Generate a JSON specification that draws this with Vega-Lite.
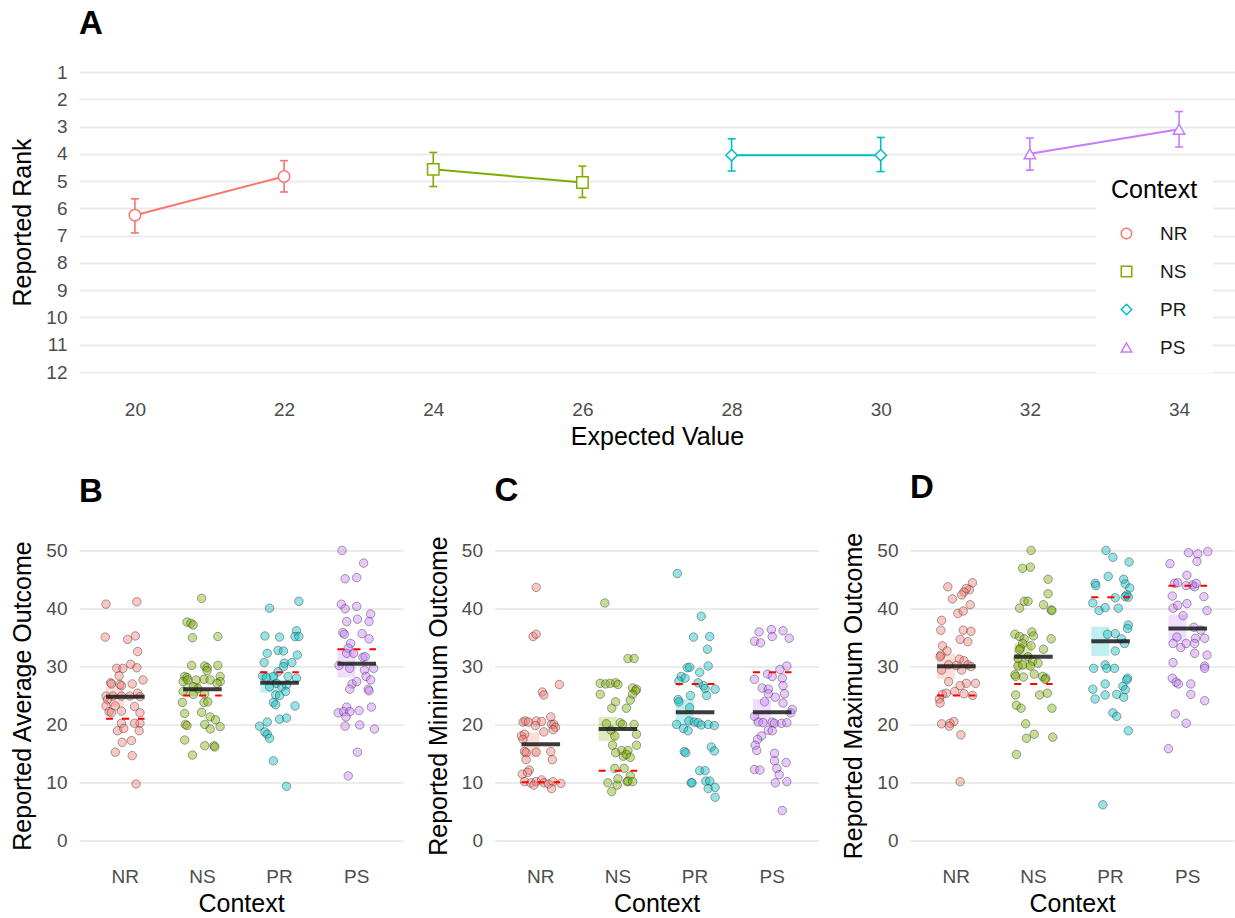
{
"$schema": "https://vega.github.io/schema/vega-lite/v6.json",
"padding": {"left": 10, "top": 8, "right": 0, "bottom": 0},
"bounds": "flush",
"spacing": 149.5,
"resolve": {"scale": {"color": "independent", "shape": "independent"}},
"datasets": {
"rank": [
{"c":"NR","ev":20,"r":6.25,"lo":5.65,"hi":6.9},
{"c":"NR","ev":22,"r":4.83,"lo":4.25,"hi":5.4},
{"c":"NS","ev":24,"r":4.57,"lo":3.95,"hi":5.2},
{"c":"NS","ev":26,"r":5.05,"lo":4.45,"hi":5.6},
{"c":"PR","ev":28,"r":4.05,"lo":3.45,"hi":4.63},
{"c":"PR","ev":30,"r":4.05,"lo":3.4,"hi":4.65},
{"c":"PS","ev":32,"r":4.0,"lo":3.42,"hi":4.6},
{"c":"PS","ev":34,"r":3.1,"lo":2.45,"hi":3.75}
],
"sumB": [
{"c":"NR","m":24.8,"lo":23.1,"hi":26.4,"ref":21},
{"c":"NS","m":26.1,"lo":24.9,"hi":27.3,"ref":25},
{"c":"PR","m":27.2,"lo":25.5,"hi":29.0,"ref":29},
{"c":"PS","m":30.5,"lo":28.1,"hi":32.9,"ref":33}
],
"sumC": [
{"c":"NR","m":16.55,"lo":14.4,"hi":18.6,"ref":10},
{"c":"NS","m":19.2,"lo":17.1,"hi":21.3,"ref":12},
{"c":"PR","m":22.1,"lo":20.0,"hi":24.4,"ref":27},
{"c":"PS","m":22.1,"lo":20.0,"hi":24.4,"ref":29}
],
"sumD": [
{"c":"NR","m":30.05,"lo":27.9,"hi":32.2,"ref":25},
{"c":"NS","m":31.7,"lo":29.4,"hi":34.0,"ref":27},
{"c":"PR","m":34.4,"lo":31.8,"hi":36.9,"ref":42},
{"c":"PS","m":36.6,"lo":34.3,"hi":39.0,"ref":44}
],
"avg": [
{"c":"NR","j":-0.25,"v":40.8},{"c":"NR","j":0.15,"v":41.2},{"c":"NR","j":-0.26,"v":35.1},{"c":"NR","j":0.03,"v":34.7},{"c":"NR","j":0.13,"v":35.3},{"c":"NR","j":0.16,"v":32.6},{"c":"NR","j":0.07,"v":30.4},{"c":"NR","j":-0.11,"v":29.7},{"c":"NR","j":-0.03,"v":29.7},{"c":"NR","j":0.15,"v":29.8},{"c":"NR","j":-0.08,"v":28.4},{"c":"NR","j":0.23,"v":27.7},{"c":"NR","j":-0.19,"v":27.2},{"c":"NR","j":-0.18,"v":27.0},{"c":"NR","j":-0.07,"v":26.9},{"c":"NR","j":-0.05,"v":26.7},{"c":"NR","j":0.09,"v":27.0},{"c":"NR","j":-0.25,"v":24.9},{"c":"NR","j":-0.16,"v":24.9},{"c":"NR","j":-0.05,"v":24.9},{"c":"NR","j":0.06,"v":24.9},{"c":"NR","j":0.16,"v":25.4},{"c":"NR","j":0.19,"v":24.8},{"c":"NR","j":-0.23,"v":24.3},{"c":"NR","j":-0.25,"v":23.2},{"c":"NR","j":-0.13,"v":23.2},{"c":"NR","j":0.12,"v":23.1},{"c":"NR","j":-0.21,"v":22.2},{"c":"NR","j":-0.18,"v":22.0},{"c":"NR","j":-0.05,"v":22.3},{"c":"NR","j":0.19,"v":22.0},{"c":"NR","j":-0.05,"v":20.2},{"c":"NR","j":0.19,"v":20.2},{"c":"NR","j":0.12,"v":20.2},{"c":"NR","j":-0.10,"v":18.9},{"c":"NR","j":-0.02,"v":19.3},{"c":"NR","j":0.18,"v":18.9},{"c":"NR","j":-0.04,"v":16.9},{"c":"NR","j":0.08,"v":17.2},{"c":"NR","j":-0.13,"v":15.2},{"c":"NR","j":0.09,"v":14.6},{"c":"NR","j":0.14,"v":9.7},
{"c":"NS","j":-0.01,"v":41.8},{"c":"NS","j":-0.20,"v":37.7},{"c":"NS","j":-0.15,"v":37.5},{"c":"NS","j":-0.12,"v":37.2},{"c":"NS","j":-0.13,"v":35.0},{"c":"NS","j":0.20,"v":35.2},{"c":"NS","j":-0.14,"v":30.2},{"c":"NS","j":0.03,"v":30.1},{"c":"NS","j":0.06,"v":29.8},{"c":"NS","j":0.20,"v":30.2},{"c":"NS","j":0.06,"v":29.3},{"c":"NS","j":-0.23,"v":28.3},{"c":"NS","j":-0.20,"v":28.1},{"c":"NS","j":-0.25,"v":27.4},{"c":"NS","j":-0.19,"v":27.7},{"c":"NS","j":-0.08,"v":27.7},{"c":"NS","j":0.02,"v":27.8},{"c":"NS","j":0.10,"v":27.7},{"c":"NS","j":0.23,"v":28.3},{"c":"NS","j":0.23,"v":27.4},{"c":"NS","j":0.19,"v":27.1},{"c":"NS","j":-0.06,"v":26.2},{"c":"NS","j":-0.12,"v":26.5},{"c":"NS","j":-0.25,"v":25.7},{"c":"NS","j":-0.12,"v":25.2},{"c":"NS","j":0.03,"v":25.3},{"c":"NS","j":-0.26,"v":23.8},{"c":"NS","j":0.02,"v":23.8},{"c":"NS","j":0.07,"v":23.9},{"c":"NS","j":-0.23,"v":21.9},{"c":"NS","j":-0.01,"v":22.1},{"c":"NS","j":0.10,"v":21.3},{"c":"NS","j":-0.22,"v":20.0},{"c":"NS","j":-0.20,"v":19.8},{"c":"NS","j":0.03,"v":20.0},{"c":"NS","j":0.10,"v":19.2},{"c":"NS","j":0.17,"v":20.8},{"c":"NS","j":0.23,"v":19.6},{"c":"NS","j":-0.23,"v":17.3},{"c":"NS","j":0.03,"v":16.3},{"c":"NS","j":0.15,"v":16.3},{"c":"NS","j":0.16,"v":16.1},{"c":"NS","j":-0.13,"v":14.7},
{"c":"PR","j":-0.13,"v":40.1},{"c":"PR","j":0.25,"v":41.3},{"c":"PR","j":-0.19,"v":35.3},{"c":"PR","j":0.0,"v":35.1},{"c":"PR","j":0.22,"v":36.2},{"c":"PR","j":0.20,"v":35.2},{"c":"PR","j":0.25,"v":35.2},{"c":"PR","j":-0.16,"v":32.3},{"c":"PR","j":-0.02,"v":32.8},{"c":"PR","j":0.05,"v":32.7},{"c":"PR","j":0.23,"v":32.0},{"c":"PR","j":-0.20,"v":30.7},{"c":"PR","j":0.06,"v":30.6},{"c":"PR","j":0.16,"v":30.7},{"c":"PR","j":0.05,"v":30.0},{"c":"PR","j":-0.02,"v":29.1},{"c":"PR","j":-0.22,"v":28.4},{"c":"PR","j":-0.17,"v":28.1},{"c":"PR","j":-0.08,"v":28.3},{"c":"PR","j":0.11,"v":28.3},{"c":"PR","j":0.22,"v":28.0},{"c":"PR","j":-0.04,"v":27.1},{"c":"PR","j":0.03,"v":26.5},{"c":"PR","j":0.09,"v":26.8},{"c":"PR","j":-0.13,"v":26.5},{"c":"PR","j":-0.05,"v":25.1},{"c":"PR","j":0.0,"v":25.0},{"c":"PR","j":0.08,"v":25.7},{"c":"PR","j":-0.08,"v":23.8},{"c":"PR","j":-0.05,"v":23.4},{"c":"PR","j":0.20,"v":23.2},{"c":"PR","j":0.0,"v":20.9},{"c":"PR","j":0.09,"v":21.1},{"c":"PR","j":-0.26,"v":19.7},{"c":"PR","j":-0.16,"v":20.4},{"c":"PR","j":-0.19,"v":18.7},{"c":"PR","j":-0.16,"v":18.3},{"c":"PR","j":-0.13,"v":17.6},{"c":"PR","j":-0.08,"v":13.7},{"c":"PR","j":0.09,"v":9.3},
{"c":"PS","j":-0.19,"v":50.1},{"c":"PS","j":0.09,"v":47.9},{"c":"PS","j":-0.15,"v":45.2},{"c":"PS","j":0.0,"v":45.4},{"c":"PS","j":-0.20,"v":40.8},{"c":"PS","j":-0.15,"v":40.0},{"c":"PS","j":0.0,"v":40.4},{"c":"PS","j":0.18,"v":39.1},{"c":"PS","j":-0.13,"v":37.8},{"c":"PS","j":0.01,"v":38.2},{"c":"PS","j":0.16,"v":37.8},{"c":"PS","j":-0.18,"v":35.9},{"c":"PS","j":-0.16,"v":35.6},{"c":"PS","j":0.07,"v":35.7},{"c":"PS","j":0.16,"v":34.8},{"c":"PS","j":-0.08,"v":34.0},{"c":"PS","j":-0.11,"v":33.2},{"c":"PS","j":-0.13,"v":32.3},{"c":"PS","j":-0.04,"v":32.3},{"c":"PS","j":0.08,"v":31.6},{"c":"PS","j":0.11,"v":31.7},{"c":"PS","j":-0.23,"v":30.2},{"c":"PS","j":-0.09,"v":29.7},{"c":"PS","j":0.22,"v":29.7},{"c":"PS","j":0.10,"v":29.4},{"c":"PS","j":0.12,"v":28.3},{"c":"PS","j":0.18,"v":27.7},{"c":"PS","j":-0.06,"v":27.0},{"c":"PS","j":0.0,"v":27.4},{"c":"PS","j":-0.09,"v":26.1},{"c":"PS","j":0.15,"v":26.1},{"c":"PS","j":0.16,"v":25.8},{"c":"PS","j":-0.13,"v":23.0},{"c":"PS","j":-0.24,"v":22.0},{"c":"PS","j":-0.17,"v":22.2},{"c":"PS","j":-0.09,"v":22.2},{"c":"PS","j":0.03,"v":22.4},{"c":"PS","j":0.19,"v":23.0},{"c":"PS","j":-0.14,"v":21.3},{"c":"PS","j":-0.15,"v":19.7},{"c":"PS","j":0.04,"v":19.9},{"c":"PS","j":0.23,"v":19.2},{"c":"PS","j":0.01,"v":15.2},{"c":"PS","j":-0.11,"v":11.1}
],
"min": [
{"c":"NR","j":-0.06,"v":43.7},{"c":"NR","j":-0.10,"v":35.2},{"c":"NR","j":-0.06,"v":35.6},{"c":"NR","j":0.02,"v":25.6},{"c":"NR","j":0.04,"v":25.1},{"c":"NR","j":0.24,"v":26.9},{"c":"NR","j":-0.23,"v":20.4},{"c":"NR","j":-0.20,"v":20.6},{"c":"NR","j":-0.16,"v":20.4},{"c":"NR","j":-0.06,"v":20.6},{"c":"NR","j":0.01,"v":20.5},{"c":"NR","j":0.13,"v":21.3},{"c":"NR","j":0.14,"v":20.0},{"c":"NR","j":0.17,"v":20.0},{"c":"NR","j":0.19,"v":19.5},{"c":"NR","j":-0.07,"v":19.8},{"c":"NR","j":-0.25,"v":18.0},{"c":"NR","j":-0.21,"v":18.3},{"c":"NR","j":0.04,"v":18.7},{"c":"NR","j":0.16,"v":19.1},{"c":"NR","j":-0.23,"v":17.4},{"c":"NR","j":-0.21,"v":15.3},{"c":"NR","j":-0.19,"v":15.1},{"c":"NR","j":-0.06,"v":15.2},{"c":"NR","j":0.13,"v":15.3},{"c":"NR","j":-0.19,"v":13.9},{"c":"NR","j":0.15,"v":13.9},{"c":"NR","j":-0.24,"v":11.4},{"c":"NR","j":-0.15,"v":12.1},{"c":"NR","j":-0.17,"v":11.7},{"c":"NR","j":-0.21,"v":10.1},{"c":"NR","j":-0.13,"v":9.9},{"c":"NR","j":-0.06,"v":10.1},{"c":"NR","j":0.01,"v":10.4},{"c":"NR","j":0.04,"v":9.9},{"c":"NR","j":0.10,"v":9.7},{"c":"NR","j":0.16,"v":10.1},{"c":"NR","j":0.26,"v":9.8},{"c":"NR","j":0.14,"v":8.9},{"c":"NR","j":-0.09,"v":9.5},
{"c":"NS","j":-0.17,"v":41.0},{"c":"NS","j":0.13,"v":31.4},{"c":"NS","j":0.21,"v":31.4},{"c":"NS","j":-0.23,"v":27.1},{"c":"NS","j":-0.16,"v":27.0},{"c":"NS","j":-0.10,"v":27.1},{"c":"NS","j":-0.03,"v":27.2},{"c":"NS","j":0.0,"v":26.9},{"c":"NS","j":-0.23,"v":25.2},{"c":"NS","j":0.19,"v":26.3},{"c":"NS","j":0.24,"v":26.1},{"c":"NS","j":0.23,"v":25.8},{"c":"NS","j":0.19,"v":25.2},{"c":"NS","j":0.16,"v":24.2},{"c":"NS","j":-0.03,"v":23.9},{"c":"NS","j":-0.08,"v":22.8},{"c":"NS","j":0.11,"v":22.8},{"c":"NS","j":-0.15,"v":20.1},{"c":"NS","j":0.03,"v":20.3},{"c":"NS","j":0.06,"v":20.0},{"c":"NS","j":0.21,"v":20.0},{"c":"NS","j":-0.09,"v":19.0},{"c":"NS","j":0.24,"v":18.3},{"c":"NS","j":-0.04,"v":18.0},{"c":"NS","j":-0.07,"v":16.4},{"c":"NS","j":0.24,"v":16.4},{"c":"NS","j":0.05,"v":15.5},{"c":"NS","j":0.13,"v":15.5},{"c":"NS","j":-0.03,"v":15.1},{"c":"NS","j":0.07,"v":14.5},{"c":"NS","j":0.16,"v":14.3},{"c":"NS","j":0.11,"v":14.8},{"c":"NS","j":-0.04,"v":12.4},{"c":"NS","j":0.08,"v":12.4},{"c":"NS","j":0.16,"v":11.1},{"c":"NS","j":0.12,"v":10.1},{"c":"NS","j":0.13,"v":10.2},{"c":"NS","j":0.19,"v":10.1},{"c":"NS","j":-0.13,"v":9.9},{"c":"NS","j":-0.01,"v":9.5},{"c":"NS","j":0.0,"v":10.6},{"c":"NS","j":-0.08,"v":8.4},
{"c":"PR","j":-0.23,"v":46.1},{"c":"PR","j":0.08,"v":38.7},{"c":"PR","j":-0.02,"v":35.1},{"c":"PR","j":0.19,"v":35.2},{"c":"PR","j":0.16,"v":33.0},{"c":"PR","j":-0.10,"v":29.8},{"c":"PR","j":-0.07,"v":29.9},{"c":"PR","j":0.17,"v":30.1},{"c":"PR","j":0.06,"v":29.0},{"c":"PR","j":-0.18,"v":28.3},{"c":"PR","j":-0.13,"v":28.0},{"c":"PR","j":-0.21,"v":27.5},{"c":"PR","j":0.11,"v":26.7},{"c":"PR","j":0.13,"v":26.2},{"c":"PR","j":0.04,"v":27.2},{"c":"PR","j":-0.06,"v":25.0},{"c":"PR","j":0.15,"v":25.0},{"c":"PR","j":0.26,"v":26.1},{"c":"PR","j":-0.22,"v":24.3},{"c":"PR","j":-0.21,"v":23.9},{"c":"PR","j":-0.07,"v":22.9},{"c":"PR","j":-0.24,"v":20.0},{"c":"PR","j":-0.15,"v":19.3},{"c":"PR","j":-0.09,"v":18.9},{"c":"PR","j":-0.08,"v":20.6},{"c":"PR","j":-0.01,"v":20.4},{"c":"PR","j":0.04,"v":20.3},{"c":"PR","j":0.08,"v":19.9},{"c":"PR","j":0.17,"v":20.0},{"c":"PR","j":0.25,"v":19.8},{"c":"PR","j":-0.14,"v":15.3},{"c":"PR","j":-0.12,"v":15.1},{"c":"PR","j":0.21,"v":16.1},{"c":"PR","j":0.25,"v":15.4},{"c":"PR","j":0.06,"v":12.0},{"c":"PR","j":0.13,"v":12.0},{"c":"PR","j":-0.05,"v":9.9},{"c":"PR","j":-0.04,"v":9.9},{"c":"PR","j":0.14,"v":10.2},{"c":"PR","j":0.19,"v":10.2},{"c":"PR","j":0.17,"v":8.9},{"c":"PR","j":0.26,"v":9.1},{"c":"PR","j":0.26,"v":7.4},
{"c":"PS","j":-0.17,"v":36.0},{"c":"PS","j":-0.01,"v":36.4},{"c":"PS","j":0.0,"v":35.2},{"c":"PS","j":0.14,"v":36.2},{"c":"PS","j":0.22,"v":34.9},{"c":"PS","j":-0.23,"v":34.4},{"c":"PS","j":-0.15,"v":34.1},{"c":"PS","j":0.19,"v":30.1},{"c":"PS","j":0.10,"v":29.5},{"c":"PS","j":-0.06,"v":28.7},{"c":"PS","j":0.0,"v":28.3},{"c":"PS","j":0.13,"v":28.0},{"c":"PS","j":-0.23,"v":27.8},{"c":"PS","j":-0.13,"v":26.3},{"c":"PS","j":-0.05,"v":26.1},{"c":"PS","j":0.14,"v":26.7},{"c":"PS","j":0.16,"v":25.3},{"c":"PS","j":0.04,"v":24.7},{"c":"PS","j":-0.05,"v":25.3},{"c":"PS","j":-0.10,"v":23.9},{"c":"PS","j":0.14,"v":23.7},{"c":"PS","j":-0.23,"v":21.4},{"c":"PS","j":0.26,"v":22.6},{"c":"PS","j":0.24,"v":22.0},{"c":"PS","j":-0.18,"v":20.4},{"c":"PS","j":-0.12,"v":20.3},{"c":"PS","j":0.0,"v":20.4},{"c":"PS","j":0.03,"v":20.2},{"c":"PS","j":0.12,"v":20.2},{"c":"PS","j":0.19,"v":20.3},{"c":"PS","j":-0.05,"v":19.0},{"c":"PS","j":0.0,"v":18.9},{"c":"PS","j":-0.14,"v":18.0},{"c":"PS","j":-0.19,"v":17.4},{"c":"PS","j":-0.22,"v":16.4},{"c":"PS","j":-0.20,"v":15.5},{"c":"PS","j":0.03,"v":15.0},{"c":"PS","j":0.03,"v":13.7},{"c":"PS","j":0.06,"v":12.4},{"c":"PS","j":0.09,"v":11.3},{"c":"PS","j":0.18,"v":13.4},{"c":"PS","j":-0.23,"v":12.2},{"c":"PS","j":-0.16,"v":12.1},{"c":"PS","j":0.04,"v":9.9},{"c":"PS","j":0.19,"v":10.1},{"c":"PS","j":0.13,"v":5.1}
],
"max": [
{"c":"NR","j":-0.11,"v":43.8},{"c":"NR","j":0.21,"v":44.5},{"c":"NR","j":0.17,"v":43.3},{"c":"NR","j":0.13,"v":43.5},{"c":"NR","j":0.10,"v":42.9},{"c":"NR","j":0.07,"v":42.4},{"c":"NR","j":-0.05,"v":41.7},{"c":"NR","j":0.18,"v":40.7},{"c":"NR","j":0.02,"v":39.2},{"c":"NR","j":0.09,"v":39.6},{"c":"NR","j":-0.19,"v":38.0},{"c":"NR","j":-0.20,"v":36.3},{"c":"NR","j":0.09,"v":36.3},{"c":"NR","j":0.19,"v":36.1},{"c":"NR","j":0.05,"v":34.7},{"c":"NR","j":0.15,"v":34.3},{"c":"NR","j":-0.18,"v":33.6},{"c":"NR","j":-0.12,"v":32.7},{"c":"NR","j":-0.20,"v":32.0},{"c":"NR","j":-0.21,"v":31.7},{"c":"NR","j":-0.10,"v":30.3},{"c":"NR","j":0.04,"v":31.3},{"c":"NR","j":0.10,"v":31.0},{"c":"NR","j":0.15,"v":30.3},{"c":"NR","j":0.19,"v":30.0},{"c":"NR","j":-0.19,"v":29.4},{"c":"NR","j":0.07,"v":29.4},{"c":"NR","j":0.0,"v":30.2},{"c":"NR","j":-0.10,"v":27.4},{"c":"NR","j":0.25,"v":27.1},{"c":"NR","j":0.13,"v":27.1},{"c":"NR","j":0.05,"v":26.7},{"c":"NR","j":-0.18,"v":25.2},{"c":"NR","j":-0.13,"v":25.4},{"c":"NR","j":-0.02,"v":25.7},{"c":"NR","j":0.10,"v":25.3},{"c":"NR","j":0.21,"v":25.0},{"c":"NR","j":-0.22,"v":24.4},{"c":"NR","j":-0.21,"v":23.7},{"c":"NR","j":-0.19,"v":20.1},{"c":"NR","j":-0.08,"v":20.2},{"c":"NR","j":-0.03,"v":20.5},{"c":"NR","j":-0.09,"v":19.7},{"c":"NR","j":0.06,"v":18.2},{"c":"NR","j":0.05,"v":10.1},
{"c":"NS","j":-0.03,"v":50.1},{"c":"NS","j":-0.14,"v":47.0},{"c":"NS","j":-0.04,"v":47.2},{"c":"NS","j":0.19,"v":45.1},{"c":"NS","j":0.19,"v":42.6},{"c":"NS","j":-0.18,"v":40.1},{"c":"NS","j":-0.12,"v":41.3},{"c":"NS","j":-0.07,"v":41.3},{"c":"NS","j":0.13,"v":40.7},{"c":"NS","j":0.23,"v":39.8},{"c":"NS","j":0.24,"v":39.7},{"c":"NS","j":-0.24,"v":35.6},{"c":"NS","j":-0.18,"v":35.2},{"c":"NS","j":-0.12,"v":34.8},{"c":"NS","j":-0.02,"v":36.0},{"c":"NS","j":0.0,"v":35.3},{"c":"NS","j":0.23,"v":34.8},{"c":"NS","j":-0.14,"v":34.0},{"c":"NS","j":-0.17,"v":33.2},{"c":"NS","j":-0.18,"v":32.9},{"c":"NS","j":-0.03,"v":33.6},{"c":"NS","j":0.13,"v":33.0},{"c":"NS","j":-0.20,"v":31.4},{"c":"NS","j":-0.07,"v":31.7},{"c":"NS","j":-0.01,"v":30.9},{"c":"NS","j":0.06,"v":30.6},{"c":"NS","j":-0.20,"v":30.1},{"c":"NS","j":-0.14,"v":30.3},{"c":"NS","j":-0.04,"v":30.1},{"c":"NS","j":-0.24,"v":28.6},{"c":"NS","j":-0.23,"v":28.3},{"c":"NS","j":-0.13,"v":28.2},{"c":"NS","j":0.01,"v":28.7},{"c":"NS","j":0.12,"v":28.3},{"c":"NS","j":0.16,"v":28.0},{"c":"NS","j":0.15,"v":27.8},{"c":"NS","j":-0.23,"v":25.1},{"c":"NS","j":0.08,"v":25.1},{"c":"NS","j":0.18,"v":25.4},{"c":"NS","j":-0.22,"v":23.3},{"c":"NS","j":-0.16,"v":22.8},{"c":"NS","j":0.24,"v":22.8},{"c":"NS","j":-0.10,"v":20.1},{"c":"NS","j":0.01,"v":18.3},{"c":"NS","j":-0.09,"v":17.6},{"c":"NS","j":0.25,"v":17.8},{"c":"NS","j":-0.22,"v":14.8},
{"c":"PR","j":-0.06,"v":50.1},{"c":"PR","j":0.03,"v":48.9},{"c":"PR","j":0.24,"v":48.1},{"c":"PR","j":-0.03,"v":45.6},{"c":"PR","j":-0.20,"v":44.4},{"c":"PR","j":-0.19,"v":44.0},{"c":"PR","j":0.17,"v":45.1},{"c":"PR","j":0.19,"v":44.3},{"c":"PR","j":0.25,"v":43.6},{"c":"PR","j":0.21,"v":42.4},{"c":"PR","j":0.19,"v":42.1},{"c":"PR","j":0.06,"v":41.9},{"c":"PR","j":-0.23,"v":41.0},{"c":"PR","j":-0.15,"v":39.7},{"c":"PR","j":-0.07,"v":40.2},{"c":"PR","j":0.10,"v":40.1},{"c":"PR","j":0.23,"v":42.0},{"c":"PR","j":0.23,"v":37.2},{"c":"PR","j":0.22,"v":36.6},{"c":"PR","j":-0.04,"v":35.6},{"c":"PR","j":0.06,"v":35.7},{"c":"PR","j":0.14,"v":34.8},{"c":"PR","j":0.18,"v":34.0},{"c":"PR","j":0.06,"v":32.7},{"c":"PR","j":-0.22,"v":29.7},{"c":"PR","j":-0.07,"v":30.3},{"c":"PR","j":-0.05,"v":29.7},{"c":"PR","j":0.05,"v":29.7},{"c":"PR","j":0.22,"v":28.0},{"c":"PR","j":0.21,"v":27.7},{"c":"PR","j":0.16,"v":26.6},{"c":"PR","j":0.19,"v":26.0},{"c":"PR","j":-0.23,"v":26.1},{"c":"PR","j":-0.20,"v":24.4},{"c":"PR","j":-0.07,"v":27.0},{"c":"PR","j":-0.07,"v":25.1},{"c":"PR","j":0.08,"v":25.2},{"c":"PR","j":0.17,"v":24.7},{"c":"PR","j":0.03,"v":22.0},{"c":"PR","j":0.08,"v":21.4},{"c":"PR","j":0.23,"v":18.9},{"c":"PR","j":-0.10,"v":6.1},
{"c":"PS","j":0.01,"v":49.7},{"c":"PS","j":0.13,"v":49.5},{"c":"PS","j":0.26,"v":49.9},{"c":"PS","j":0.12,"v":48.2},{"c":"PS","j":-0.23,"v":47.8},{"c":"PS","j":-0.01,"v":45.8},{"c":"PS","j":-0.17,"v":44.4},{"c":"PS","j":-0.13,"v":44.5},{"c":"PS","j":0.06,"v":44.1},{"c":"PS","j":0.09,"v":43.8},{"c":"PS","j":-0.02,"v":44.0},{"c":"PS","j":0.11,"v":44.4},{"c":"PS","j":-0.20,"v":42.2},{"c":"PS","j":0.21,"v":42.1},{"c":"PS","j":-0.19,"v":40.1},{"c":"PS","j":-0.13,"v":40.6},{"c":"PS","j":-0.01,"v":40.9},{"c":"PS","j":0.25,"v":39.7},{"c":"PS","j":-0.06,"v":38.8},{"c":"PS","j":0.08,"v":36.8},{"c":"PS","j":0.17,"v":36.3},{"c":"PS","j":-0.14,"v":35.1},{"c":"PS","j":0.10,"v":34.9},{"c":"PS","j":-0.09,"v":33.3},{"c":"PS","j":-0.02,"v":34.0},{"c":"PS","j":0.09,"v":34.0},{"c":"PS","j":0.22,"v":34.9},{"c":"PS","j":-0.19,"v":34.0},{"c":"PS","j":0.09,"v":32.3},{"c":"PS","j":0.25,"v":32.0},{"c":"PS","j":-0.19,"v":30.7},{"c":"PS","j":0.22,"v":30.1},{"c":"PS","j":0.22,"v":29.7},{"c":"PS","j":-0.20,"v":28.0},{"c":"PS","j":-0.15,"v":27.3},{"c":"PS","j":-0.12,"v":27.0},{"c":"PS","j":0.04,"v":27.0},{"c":"PS","j":0.04,"v":25.2},{"c":"PS","j":0.22,"v":24.1},{"c":"PS","j":-0.16,"v":21.8},{"c":"PS","j":-0.02,"v":20.2},{"c":"PS","j":-0.25,"v":15.8}
]
},
"vconcat": [
{
"width": 1156, "height": 330,
"title": {"text": "A", "offset": -10, "baseline": "alphabetic"},
"data": {"name": "rank"},
"encoding": {
"x": {"field": "ev", "type": "quantitative", "title": "Expected Value", "scale": {"domain": [19.25, 34.75], "nice": false, "zero": false}, "axis": {"values": [20, 22, 24, 26, 28, 30, 32, 34], "grid": false}}
},
"layer": [
{"mark": {"type": "rule", "strokeWidth": 1.6},
"encoding": {"y": {"field": "lo", "type": "quantitative", "title": "Reported Rank", "scale": {"domain": [0.45, 12.55], "reverse": true, "nice": false, "zero": false}, "axis": {"values": [1,2,3,4,5,6,7,8,9,10,11,12], "labelOverlap": false}}, "y2": {"field": "hi"},
"stroke": {"field": "c", "type": "nominal", "scale": {"domain": ["NR", "NS", "PR", "PS"], "range": ["#F8766D", "#7CAE00", "#00BFC4", "#C77CFF"]}, "legend": null}}},
{"mark": {"type": "tick", "orient": "horizontal", "size": 8, "thickness": 1.6, "opacity": 1},
"encoding": {"y": {"field": "lo", "type": "quantitative", "title": "Reported Rank", "axis": {"values": [1,2,3,4,5,6,7,8,9,10,11,12], "labelOverlap": false}},
"fill": {"field": "c", "type": "nominal", "scale": {"domain": ["NR", "NS", "PR", "PS"], "range": ["#F8766D", "#7CAE00", "#00BFC4", "#C77CFF"]}, "legend": null}}},
{"mark": {"type": "tick", "orient": "horizontal", "size": 8, "thickness": 1.6, "opacity": 1},
"encoding": {"y": {"field": "hi", "type": "quantitative", "title": "Reported Rank", "axis": {"values": [1,2,3,4,5,6,7,8,9,10,11,12], "labelOverlap": false}},
"fill": {"field": "c", "type": "nominal", "legend": null}}},
{"mark": {"type": "line", "strokeWidth": 2},
"encoding": {"y": {"field": "r", "type": "quantitative", "title": "Reported Rank", "axis": {"values": [1,2,3,4,5,6,7,8,9,10,11,12], "labelOverlap": false}},
"stroke": {"field": "c", "type": "nominal", "legend": null}}},
{"mark": {"type": "point", "filled": false, "fill": "white", "fillOpacity": 1, "opacity": 1, "size": 130, "strokeWidth": 1.5},
"encoding": {"y": {"field": "r", "type": "quantitative", "title": "Reported Rank", "axis": {"values": [1,2,3,4,5,6,7,8,9,10,11,12], "labelOverlap": false}},
"color": {"field": "c", "type": "nominal", "title": "Context", "scale": {"domain": ["NR", "NS", "PR", "PS"], "range": ["#F8766D", "#7CAE00", "#00BFC4", "#C77CFF"]},
"legend": {"orient": "none", "legendX": 1017, "legendY": 106, "fillColor": "white", "padding": 15, "titleFontSize": 25, "titleFontWeight": "normal", "titleColor": "#000000", "titlePadding": 21, "labelFontSize": 19, "labelColor": "#1A1A1A", "symbolSize": 110, "symbolStrokeWidth": 1.5, "rowPadding": 18, "symbolOffset": 6, "labelOffset": 24}},
"shape": {"field": "c", "type": "nominal", "title": "Context", "scale": {"domain": ["NR", "NS", "PR", "PS"], "range": ["circle", "square", "diamond", "triangle-up"]},
"legend": {"orient": "none", "legendX": 1017, "legendY": 106, "fillColor": "white", "padding": 15, "titleFontSize": 25, "titleFontWeight": "normal", "titleColor": "#000000", "titlePadding": 21, "labelFontSize": 19, "labelColor": "#1A1A1A", "symbolSize": 110, "symbolStrokeWidth": 1.5, "rowPadding": 18, "symbolOffset": 6, "labelOffset": 24}}}}
]
},
{
"hconcat": [
{
"width": 324, "height": 318,
"title": {"text": "B", "offset": 1.5, "baseline": "alphabetic"},
"layer": [
{"data": {"name": "sumB"}, "mark": {"type": "bar", "width": {"band": 0.5}, "opacity": 0.25},
"encoding": {"x": {"field": "c", "type": "nominal", "title": "Context", "scale": {"domain": ["NR", "NS", "PR", "PS"], "paddingInner": 0, "paddingOuter": 0.1}, "axis": {"labelAngle": 0}},
"y": {"field": "lo", "type": "quantitative", "title": "Reported Average Outcome", "scale": {"domain": [-2.5, 52.5], "nice": false, "zero": false}, "axis": {"values": [0,5,10,15,20,25,30,35,40,45,50], "labelExpr": "datum.value % 10 == 0 ? datum.label : ''", "gridColor": {"condition": {"test": "datum.value % 10 == 0", "value": "#EBEBEB"}, "value": "#F2F2F2"}, "gridWidth": {"condition": {"test": "datum.value % 10 == 0", "value": 2}, "value": 1.2}}},
"y2": {"field": "hi"},
"fill": {"field": "c", "type": "nominal", "scale": {"domain": ["NR", "NS", "PR", "PS"], "range": ["#F8766D", "#7CAE00", "#00BFC4", "#C77CFF"]}, "legend": null}}},
{"data": {"name": "avg"}, "mark": {"type": "circle", "size": 72, "opacity": 1, "fillOpacity": 0.42, "stroke": "#222222", "strokeOpacity": 0.5, "strokeWidth": 0.8},
"encoding": {"x": {"field": "c", "type": "nominal", "title": "Context"}, "xOffset": {"field": "j", "type": "quantitative", "scale": {"domain": [-0.5, 0.5]}},
"y": {"field": "v", "type": "quantitative", "title": "Reported Average Outcome"},
"fill": {"field": "c", "type": "nominal", "legend": null}}},
{"data": {"name": "sumB"}, "mark": {"type": "rule", "color": "#1A1A1A", "strokeWidth": 4, "opacity": 0.85},
"encoding": {"x": {"field": "c", "type": "nominal", "title": "Context", "bandPosition": 0.25}, "x2": {"field": "c", "bandPosition": 0.75}, "y": {"field": "m", "type": "quantitative", "title": "Reported Average Outcome"}}},
{"data": {"name": "sumB"}, "mark": {"type": "rule", "color": "#FF0000", "strokeWidth": 2, "strokeDash": [7, 9]},
"encoding": {"x": {"field": "c", "type": "nominal", "title": "Context", "bandPosition": 0.25}, "x2": {"field": "c", "bandPosition": 0.75}, "y": {"field": "ref", "type": "quantitative", "title": "Reported Average Outcome"}}}
]
},
{
"width": 324, "height": 318,
"title": {"text": "C", "offset": 1.5, "baseline": "alphabetic"},
"layer": [
{"data": {"name": "sumC"}, "mark": {"type": "bar", "width": {"band": 0.5}, "opacity": 0.25},
"encoding": {"x": {"field": "c", "type": "nominal", "title": "Context", "scale": {"domain": ["NR", "NS", "PR", "PS"], "paddingInner": 0, "paddingOuter": 0.1}, "axis": {"labelAngle": 0}},
"y": {"field": "lo", "type": "quantitative", "title": "Reported Minimum Outcome", "scale": {"domain": [-2.5, 52.5], "nice": false, "zero": false}, "axis": {"values": [0,5,10,15,20,25,30,35,40,45,50], "labelExpr": "datum.value % 10 == 0 ? datum.label : ''", "gridColor": {"condition": {"test": "datum.value % 10 == 0", "value": "#EBEBEB"}, "value": "#F2F2F2"}, "gridWidth": {"condition": {"test": "datum.value % 10 == 0", "value": 2}, "value": 1.2}}},
"y2": {"field": "hi"},
"fill": {"field": "c", "type": "nominal", "scale": {"domain": ["NR", "NS", "PR", "PS"], "range": ["#F8766D", "#7CAE00", "#00BFC4", "#C77CFF"]}, "legend": null}}},
{"data": {"name": "min"}, "mark": {"type": "circle", "size": 72, "opacity": 1, "fillOpacity": 0.42, "stroke": "#222222", "strokeOpacity": 0.5, "strokeWidth": 0.8},
"encoding": {"x": {"field": "c", "type": "nominal", "title": "Context"}, "xOffset": {"field": "j", "type": "quantitative", "scale": {"domain": [-0.5, 0.5]}},
"y": {"field": "v", "type": "quantitative", "title": "Reported Minimum Outcome"},
"fill": {"field": "c", "type": "nominal", "legend": null}}},
{"data": {"name": "sumC"}, "mark": {"type": "rule", "color": "#1A1A1A", "strokeWidth": 4, "opacity": 0.85},
"encoding": {"x": {"field": "c", "type": "nominal", "title": "Context", "bandPosition": 0.25}, "x2": {"field": "c", "bandPosition": 0.75}, "y": {"field": "m", "type": "quantitative", "title": "Reported Minimum Outcome"}}},
{"data": {"name": "sumC"}, "mark": {"type": "rule", "color": "#FF0000", "strokeWidth": 2, "strokeDash": [7, 9]},
"encoding": {"x": {"field": "c", "type": "nominal", "title": "Context", "bandPosition": 0.25}, "x2": {"field": "c", "bandPosition": 0.75}, "y": {"field": "ref", "type": "quantitative", "title": "Reported Minimum Outcome"}}}
]
},
{
"width": 324, "height": 318,
"title": {"text": "D", "offset": 1.5, "baseline": "alphabetic"},
"layer": [
{"data": {"name": "sumD"}, "mark": {"type": "bar", "width": {"band": 0.5}, "opacity": 0.25},
"encoding": {"x": {"field": "c", "type": "nominal", "title": "Context", "scale": {"domain": ["NR", "NS", "PR", "PS"], "paddingInner": 0, "paddingOuter": 0.1}, "axis": {"labelAngle": 0}},
"y": {"field": "lo", "type": "quantitative", "title": "Reported Maximum Outcome", "scale": {"domain": [-2.5, 52.5], "nice": false, "zero": false}, "axis": {"values": [0,5,10,15,20,25,30,35,40,45,50], "labelExpr": "datum.value % 10 == 0 ? datum.label : ''", "gridColor": {"condition": {"test": "datum.value % 10 == 0", "value": "#EBEBEB"}, "value": "#F2F2F2"}, "gridWidth": {"condition": {"test": "datum.value % 10 == 0", "value": 2}, "value": 1.2}}},
"y2": {"field": "hi"},
"fill": {"field": "c", "type": "nominal", "scale": {"domain": ["NR", "NS", "PR", "PS"], "range": ["#F8766D", "#7CAE00", "#00BFC4", "#C77CFF"]}, "legend": null}}},
{"data": {"name": "max"}, "mark": {"type": "circle", "size": 72, "opacity": 1, "fillOpacity": 0.42, "stroke": "#222222", "strokeOpacity": 0.5, "strokeWidth": 0.8},
"encoding": {"x": {"field": "c", "type": "nominal", "title": "Context"}, "xOffset": {"field": "j", "type": "quantitative", "scale": {"domain": [-0.5, 0.5]}},
"y": {"field": "v", "type": "quantitative", "title": "Reported Maximum Outcome"},
"fill": {"field": "c", "type": "nominal", "legend": null}}},
{"data": {"name": "sumD"}, "mark": {"type": "rule", "color": "#1A1A1A", "strokeWidth": 4, "opacity": 0.85},
"encoding": {"x": {"field": "c", "type": "nominal", "title": "Context", "bandPosition": 0.25}, "x2": {"field": "c", "bandPosition": 0.75}, "y": {"field": "m", "type": "quantitative", "title": "Reported Maximum Outcome"}}},
{"data": {"name": "sumD"}, "mark": {"type": "rule", "color": "#FF0000", "strokeWidth": 2, "strokeDash": [7, 9]},
"encoding": {"x": {"field": "c", "type": "nominal", "title": "Context", "bandPosition": 0.25}, "x2": {"field": "c", "bandPosition": 0.75}, "y": {"field": "ref", "type": "quantitative", "title": "Reported Maximum Outcome"}}}
]
}
],
"spacing": 91.5,
"bounds": "flush"
}
],
"config": {
"font": "Liberation Sans",
"view": {"stroke": null},
"axis": {"labelFontSize": 19, "labelColor": "#4D4D4D", "titleFontSize": 25, "titleFontWeight": "normal", "titleColor": "#000000", "ticks": false, "tickSize": 0, "domain": false, "labelPadding": 10, "titlePadding": 5, "gridColor": "#EBEBEB", "gridWidth": 2},
"axisX": {"grid": false, "labelPadding": 13},
"axisY": {"labelPadding": 12, "titlePadding": 10, "grid": true},
"title": {"fontSize": 33, "fontWeight": "bold", "anchor": "start", "frame": "group", "color": "#000000"}
}
}
